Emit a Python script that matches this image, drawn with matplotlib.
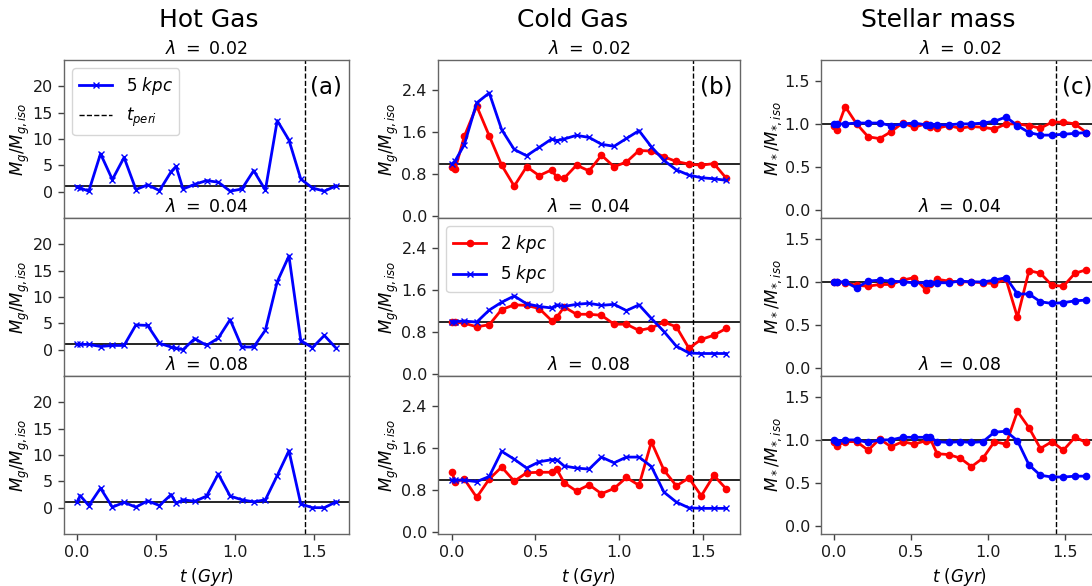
import matplotlib
matplotlib.use("Agg")
import matplotlib.pyplot as plt

# Snapshot times (Gyr)
t = [0.0, 0.02, 0.075, 0.149, 0.224, 0.298, 0.373, 0.447, 0.522, 0.596, 0.627,
     0.671, 0.745, 0.820, 0.894, 0.969, 1.043, 1.118, 1.192, 1.267, 1.341,
     1.416, 1.490, 1.565, 1.639]
t_peri = 1.44
lambdas = ["0.02", "0.04", "0.08"]

# Hot gas, 5 kpc aperture
hot5_02 = [0.9, 0.7, 0.1, 7.2, 2.3, 6.5, 0.4, 1.3, 0.2, 3.8, 4.8, 0.5, 1.4, 2.1,
           1.8, 0.1, 0.5, 4.0, 0.3, 13.5, 9.8, 2.4, 0.7, 0.1, 1.1]
hot5_04 = [1.0, 1.0, 1.0, 0.6, 0.8, 0.8, 4.7, 4.6, 1.2, 0.5, 0.3, 0.0, 2.1, 0.8,
           2.2, 5.7, 0.5, 0.5, 3.7, 12.9, 17.8, 1.7, 0.4, 2.7, 0.3]
hot5_08 = [1.0, 2.3, 0.4, 3.7, 0.1, 1.0, 0.1, 1.3, 0.4, 2.5, 0.8, 1.5, 1.2, 2.2,
           6.4, 2.2, 1.5, 1.1, 1.5, 6.1, 10.8, 0.7, 0.0, 0.0, 1.1]

# Cold gas, 2 kpc and 5 kpc apertures
cold2_02 = [0.94, 0.89, 1.52, 2.10, 1.53, 0.97, 0.57, 0.94, 0.77, 0.88, 0.74, 0.72,
            0.97, 0.86, 1.16, 0.94, 1.03, 1.25, 1.24, 1.13, 1.04, 0.99, 0.97, 1.00, 0.72]
cold5_02 = [0.99, 1.05, 1.36, 2.16, 2.35, 1.65, 1.27, 1.15, 1.31, 1.47, 1.44, 1.47,
            1.54, 1.50, 1.37, 1.33, 1.48, 1.63, 1.32, 1.06, 0.88, 0.78, 0.73, 0.71, 0.68]
cold2_04 = [1.00, 0.99, 0.97, 0.90, 0.94, 1.23, 1.32, 1.31, 1.25, 1.02, 1.08, 1.28,
            1.14, 1.14, 1.12, 0.95, 0.95, 0.83, 0.88, 0.99, 0.90, 0.49, 0.66, 0.74, 0.87]
cold5_04 = [1.00, 1.00, 1.01, 0.99, 1.22, 1.37, 1.49, 1.34, 1.29, 1.26, 1.32, 1.29,
            1.33, 1.35, 1.31, 1.33, 1.21, 1.32, 1.06, 0.81, 0.53, 0.40, 0.39, 0.39, 0.39]
cold2_08 = [1.15, 0.96, 1.01, 0.66, 1.01, 1.24, 0.97, 1.13, 1.14, 1.14, 1.20, 0.94,
            0.78, 0.90, 0.73, 0.83, 1.04, 0.89, 1.72, 1.18, 0.88, 1.03, 0.69, 1.08, 0.82]
cold5_08 = [0.99, 0.99, 0.99, 0.96, 1.06, 1.54, 1.39, 1.22, 1.34, 1.38, 1.38, 1.26,
            1.22, 1.20, 1.43, 1.32, 1.43, 1.43, 1.25, 0.76, 0.57, 0.46, 0.45, 0.45, 0.45]

# Stellar mass, 2 kpc and 5 kpc apertures
star2_02 = [0.98, 0.93, 1.20, 1.00, 0.85, 0.83, 0.91, 1.01, 0.96, 1.00, 0.96, 0.95,
            0.98, 0.95, 0.97, 0.96, 0.94, 1.00, 1.00, 0.98, 0.95, 1.02, 1.02, 1.00, 0.90]
star5_02 = [1.00, 1.00, 1.00, 1.01, 1.01, 1.01, 0.98, 1.00, 1.01, 0.99, 0.99, 0.99,
            0.99, 1.00, 1.00, 1.01, 1.03, 1.08, 0.98, 0.90, 0.87, 0.87, 0.88, 0.89, 0.90]
star2_04 = [1.00, 1.00, 0.99, 0.96, 0.95, 0.97, 0.97, 1.02, 1.05, 0.91, 0.97, 1.03,
            1.01, 1.00, 1.00, 0.99, 0.98, 1.03, 0.59, 1.13, 1.10, 0.96, 0.95, 1.10, 1.14]
star5_04 = [1.00, 1.00, 1.00, 0.93, 1.01, 1.02, 1.01, 1.00, 0.99, 0.99, 0.99, 0.99,
            0.99, 1.01, 1.00, 1.00, 1.02, 1.05, 0.86, 0.86, 0.77, 0.75, 0.76, 0.78, 0.79]
star2_08 = [0.98, 0.93, 0.98, 0.98, 0.88, 1.01, 0.92, 0.98, 0.95, 0.99, 1.01, 0.84,
            0.83, 0.79, 0.69, 0.79, 0.98, 0.95, 1.33, 1.14, 0.90, 0.98, 0.88, 1.03, 0.97]
star5_08 = [1.00, 0.98, 1.00, 1.00, 0.97, 1.00, 1.00, 1.03, 1.03, 1.03, 1.03, 0.98,
            0.97, 0.98, 0.97, 0.98, 1.09, 1.10, 0.99, 0.71, 0.59, 0.57, 0.57, 0.58, 0.58]

hot = [hot5_02, hot5_04, hot5_08]
cold2 = [cold2_02, cold2_04, cold2_08]
cold5 = [cold5_02, cold5_04, cold5_08]
star2 = [star2_02, star2_04, star2_08]
star5 = [star5_02, star5_04, star5_08]

col_titles = ["Hot Gas", "Cold Gas", "Stellar mass"]
panel_tags = ["(a)", "(b)", "(c)"]

W, H = 1092, 586
fig = plt.figure(figsize=(W / 100, H / 100), dpi=100)

col_left = [64, 438, 821]
col_width = [285, 302, 278]
row_top = [60, 218, 376]
row_h = 158
title_x = [209, 573, 938]

ylims = [(-5, 25), (-0.04, 2.98), (-0.09, 1.74)]
yticks = [[0, 5, 10, 15, 20], [0.0, 0.8, 1.6, 2.4], [0.0, 0.5, 1.0, 1.5]]
ylabels = [r"$M_g/M_{g,iso}$", r"$M_g/M_{g,iso}$", r"$M_*/M_{*,iso}$"]
xlim = (-0.082, 1.721)

spine_col = "0.4"

for c in range(3):
    fig.text(title_x[c] / W, 1 - 27 / H, col_titles[c], fontsize=18,
             ha="center", va="baseline")
    for r in range(3):
        ax = fig.add_axes([col_left[c] / W, 1 - (row_top[r] + row_h) / H,
                           col_width[c] / W, row_h / H])
        for s in ax.spines.values():
            s.set_color(spine_col)
            s.set_linewidth(1.0)
        ax.axhline(1.0, color="k", lw=1.2, zorder=1)
        vl = ax.axvline(t_peri, color="k", ls="--", lw=1.0, zorder=1)
        if c == 0:
            l5, = ax.plot(t, hot[r], color="blue", marker="x", ms=4.5, mew=1.0,
                          lw=2, zorder=3)
        elif c == 1:
            l2, = ax.plot(t, cold2[r], color="red", marker="o", ms=4.5, lw=2,
                          zorder=3)
            l5, = ax.plot(t, cold5[r], color="blue", marker="x", ms=4.5, mew=1.0,
                          lw=2, zorder=3)
        else:
            ax.plot(t, star2[r], color="red", marker="o", ms=4.5, lw=2, zorder=3)
            ax.plot(t, star5[r], color="blue", marker="o", ms=4.5, lw=2, zorder=3)

        ax.set_xlim(*xlim)
        ax.set_ylim(*ylims[c])
        ax.set_yticks(yticks[c])
        if c == 0:
            ax.set_yticklabels([str(v) for v in yticks[c]])
        else:
            ax.set_yticklabels([f"{v:.1f}" for v in yticks[c]])
        ax.set_xticks([0.0, 0.5, 1.0, 1.5])
        ax.tick_params(axis="both", labelsize=11.5, length=4.5, width=1.0,
                       color="0.25", labelcolor="0.1")
        ax.set_ylabel(ylabels[c], fontsize=12, labelpad=0.5)
        ax.set_title(r"$\lambda\ =\ $" + lambdas[r], fontsize=12.5, pad=4)
        if r < 2:
            ax.tick_params(axis="x", bottom=False, labelbottom=False)
        else:
            ax.set_xticklabels(["0.0", "0.5", "1.0", "1.5"])
            ax.set_xlabel(r"$t\ (Gyr)$", fontsize=12)

        if r == 0:
            ax.text(0.975, 0.9, panel_tags[c], transform=ax.transAxes,
                    fontsize=16.5, ha="right", va="top")
        if c == 0 and r == 0:
            ax.legend([l5, vl], ["5 $kpc$", "$t_{peri}$"], loc="upper left",
                      fontsize=12, handlelength=2.0)
        if c == 1 and r == 1:
            ax.legend([l2, l5], ["2 $kpc$", "5 $kpc$"], loc="upper left",
                      fontsize=12, handlelength=2.0)

fig.savefig("out.png", dpi=100)
